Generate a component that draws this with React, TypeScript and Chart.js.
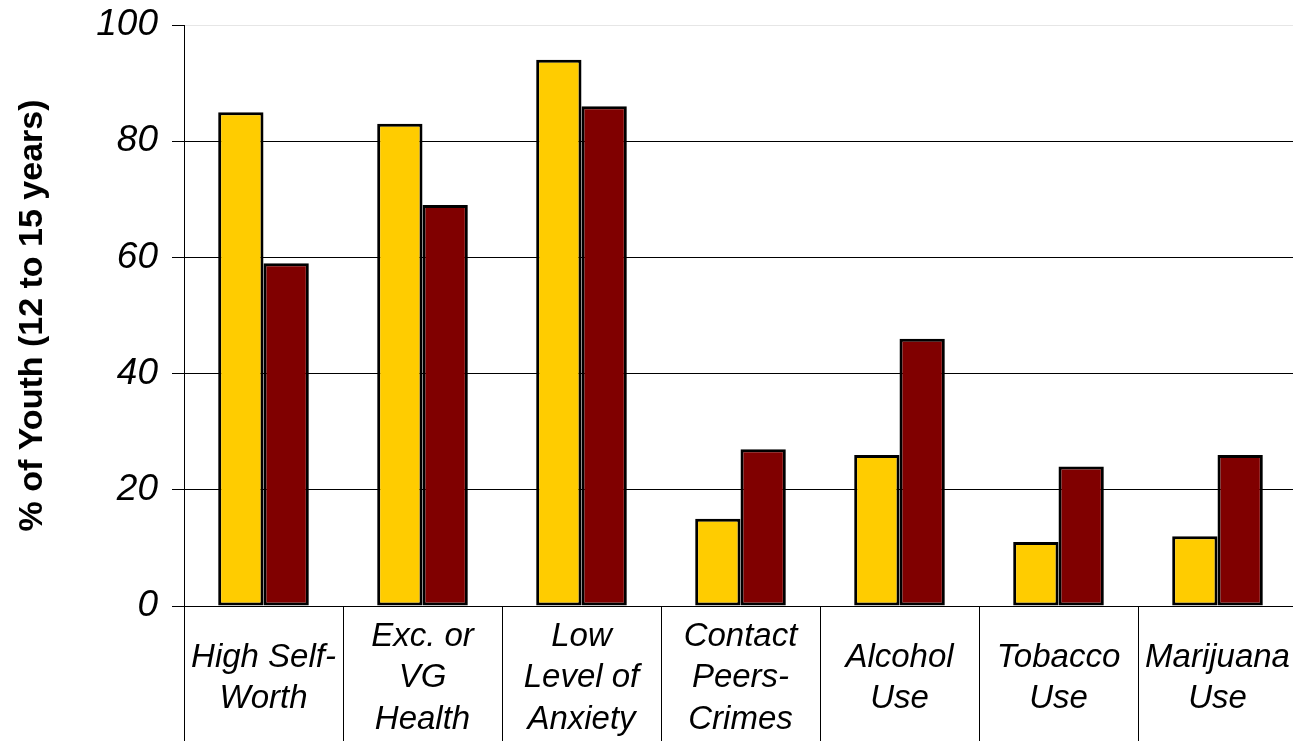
import React, { useEffect, useRef } from "react";
import { Chart, registerables } from "chart.js";

Chart.register(...registerables);

const categories: string[][] = [
  ["High Self-", "Worth"],
  ["Exc. or", "VG", "Health"],
  ["Low", "Level of", "Anxiety"],
  ["Contact", "Peers-", "Crimes"],
  ["Alcohol", "Use"],
  ["Tobacco", "Use"],
  ["Marijuana", "Use"],
];

const yellowValues = [85, 83, 94, 15, 26, 11, 12];
const maroonValues = [59, 69, 86, 27, 46, 24, 26];

const yTicks = [0, 20, 40, 60, 80, 100];

const FONT = "'Liberation Sans', Arial, Helvetica, sans-serif";

// Vertical separators between categories, running from the baseline to the bottom edge
const categoryDividers = {
  id: "categoryDividers",
  afterDraw(chart: Chart) {
    const x = chart.scales.x;
    const area = chart.chartArea;
    const ctx = chart.ctx;
    const n = categories.length;
    const step = (area.right - area.left) / n;
    ctx.save();
    ctx.strokeStyle = "#000";
    ctx.lineWidth = 1;
    for (let i = 0; i <= n; i++) {
      const px = Math.round(x.left + i * step) + 0.5;
      ctx.beginPath();
      ctx.moveTo(px, area.bottom);
      ctx.lineTo(px, chart.height);
      ctx.stroke();
    }
    ctx.restore();
  },
};

export default function App() {
  const canvasRef = useRef<HTMLCanvasElement | null>(null);

  useEffect(() => {
    if (!canvasRef.current) return;
    const chart = new Chart(canvasRef.current, {
      type: "bar",
      data: {
        labels: categories,
        datasets: [
          {
            data: yellowValues,
            backgroundColor: "#FFCC00",
            borderColor: "#000",
            borderWidth: 3,
            borderSkipped: false,
          },
          {
            data: maroonValues,
            backgroundColor: "#800000",
            borderColor: "#000",
            borderWidth: 3,
            borderSkipped: false,
          },
        ],
      },
      options: {
        responsive: false,
        animation: false,
        devicePixelRatio: 1,
        layout: { padding: { top: 25, right: 3, left: 0, bottom: 0 } },
        plugins: {
          legend: { display: false },
          tooltip: { enabled: false },
        },
        datasets: {
          bar: { categoryPercentage: 0.57, barPercentage: 1.0 },
        },
        scales: {
          x: {
            grid: { display: false, drawOnChartArea: false, drawTicks: false },
            border: { display: true, color: "#000", width: 1 },
            ticks: {
              color: "#000",
              padding: 31,
              maxRotation: 0,
              autoSkip: false,
              crossAlign: "center",
              font: { family: FONT, size: 33, style: "italic", lineHeight: 1.25 },
            },
            afterFit(scale: any) {
              scale.height = 135;
              scale.paddingLeft = 0;
              scale.paddingRight = 0;
            },
          },
          y: {
            min: 0,
            max: 100,
            afterBuildTicks(scale: any) {
              scale.ticks = yTicks.map((v) => ({ value: v }));
            },
            grid: {
              color: (ctx: any) => (ctx.tick && ctx.tick.value === 100 ? "#e6e6e6" : "#000"),
              tickColor: "#000",
              tickLength: 12,
              lineWidth: 1,
            },
            border: { display: true, color: "#000", width: 1 },
            ticks: {
              color: "#000",
              padding: 14,
              font: { family: FONT, size: 37, style: "italic" },
            },
            title: {
              display: true,
              text: "% of Youth (12 to 15 years)",
              color: "#000",
              padding: { top: 12, bottom: 0 },
              font: { family: FONT, size: 34, weight: "bold", lineHeight: 1.2 },
            },
            afterFit(scale: any) {
              scale.width = 184;
              scale.paddingTop = 0;
              scale.paddingBottom = 0;
            },
          },
        },
      },
      plugins: [categoryDividers],
    });
    return () => chart.destroy();
  }, []);

  return (
    <div
      style={{
        position: "absolute",
        left: 0,
        top: 0,
        width: 1293,
        height: 741,
        overflow: "hidden",
        background: "#fff",
      }}
    >
      <canvas ref={canvasRef} width={1300} height={741} style={{ display: "block" }} />
    </div>
  );
}
